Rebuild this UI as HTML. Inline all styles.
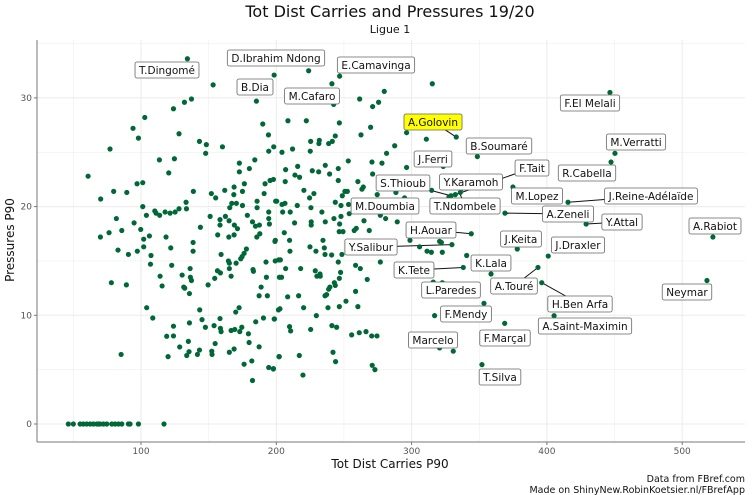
<!DOCTYPE html>
<html><head><meta charset="utf-8"><style>
body{margin:0;background:#fff;}
svg{display:block;font-family:"DejaVu Sans","Liberation Sans",sans-serif;}
</style></head><body>
<svg id="chart" width="752" height="495" viewBox="0 0 752 495">
<text x="390" y="17" text-anchor="middle" font-size="16" fill="#111">Tot Dist Carries and Pressures 19/20</text>
<text x="390" y="33" text-anchor="middle" font-size="11" fill="#111">Ligue 1</text>
<g id="grid"></g>
<g id="axes"></g>
<g id="conn"></g>
<g id="pts"></g>
<g id="labs"></g>
<text x="390" y="468" text-anchor="middle" font-size="12" fill="#111">Tot Dist Carries P90</text>
<text transform="translate(14,240) rotate(-90)" text-anchor="middle" font-size="12" fill="#111">Pressures P90</text>
<text x="745" y="482" text-anchor="end" font-size="9.5" fill="#111">Data from FBref.com</text>
<text x="745" y="493" text-anchor="end" font-size="9.5" fill="#111">Made on ShinyNew.RobinKoetsier.nl/FBrefApp</text>
</svg>
<script>
const xTicks=[100,200,300,400,500];
const yTicks=[0,10,20,30];
const xVals=[134.3,153.3,198.4,137.3,132.1,124,185.3,102.8,94.1,98.1,128.1,190,194.2,77.1,143.2,148.3,147.8,160.2,194.4,198.1,113.6,124.7,120.5,60.9,97.1,101.3,138.7,152,155.2,161.9,168.8,172.7,172.7,180.1,184.1,176.4,175,168.6,70.2,79.8,89.5,101.3,133.3,133.6,128.1,121.5,117.8,125.2,104,110.2,111.1,113.8,165.6,167.1,170.5,175,185.8,185.8,200.3,191,191.7,195.4,197.9,194.4,194.4,194.9,151.1,158.4,158.4,162.4,165.1,178.6,182.4,184.6,187.5,187.8,185.6,169,171.3,168.8,164.9,156.7,143.9,138.5,81.8,85.8,94.9,99.8,106.2,102,102,70,76.4,83,90.7,97.3,107.4,107,118.5,122,138.5,159.2,177.9,176.2,174.7,173.7,164.6,165.3,165.3,170.3,156.5,158.7,154.5,166.6,182.8,183.1,192.4,201.8,192.7,188.8,187.3,193.4,202.3,199.3,122.7,130.4,136.3,136.5,137.3,131.6,132.3,135.8,149.6,114.1,115.6,78.1,89.2,104.2,108.7,143.4,145.1,147.6,154,158.7,159.2,166.6,169.3,173,174.5,170,172.5,158.4,135.8,124,119,124,128.6,135,135.5,133.8,141.7,143.2,152.3,152.5,154.8,165.3,168.8,179.4,179.9,184.8,190.5,198.6,201.6,187.3,181.9,176.2,182.4,194.4,197.9,202,85.3,120,
46.3,50,55,57.4,59.9,62.4,64.8,67.3,68.5,69.7,72.2,74.7,78.4,80.8,83.3,85.8,90.7,91.9,98.1,117,
223.9,246.8,241.1,242.4,261.6,279.8,275.6,271.2,315.3,208.6,222.2,246.6,269.7,262.6,243.6,241.4,238.7,231.8,231.5,225.4,225.1,212,204.2,287.5,281.5,296.3,310.9,333,348.6,278.1,270.7,253.2,245.8,236.2,226.6,215.8,206.9,206.6,213.8,217.2,231.3,239.4,245.8,260.3,264.3,263.3,271.2,296.3,323.4,220.4,227.8,248.8,250.7,252.5,243.6,247.8,260.6,274.6,288.4,294.8,314.8,329.1,332.3,336,327.6,199.5,204.2,206.4,215.5,224.6,204.7,210.3,225.6,233.7,242.6,247.8,253.4,253.9,276.9,280.8,289.4,264.8,213.5,225.8,225.8,236.2,246.8,246.5,249.3,257.6,259.1,268.7,199,205.9,209.8,210.1,224.9,229.3,234.5,235.5,236,240.9,245.8,248.5,298.8,305.9,311.4,314.6,320.7,322,329.8,322.7,344.1,340.7,338.2,276.9,199.2,203,206.9,218,228.8,230,232.3,232.5,239.6,238.7,237.2,236,242.9,243.6,246.6,247.5,258.6,262.1,267.2,258.6,208.4,216.5,203.9,202.7,220.2,229.6,238.2,246.6,251.5,260.3,198.5,209.8,210.6,225.4,241.1,244.6,255.7,261.3,266.3,270.5,274.4,316,322.7,358.7,353.5,317,368.8,320.7,330.8,352,202.2,217,241.9,243.8,197.8,219.7,270.9,272.9,374.9,369,378.1,
446.6,450.3,447.4,415.6,429,522.7,401,393.4,396.2,405.3,518.3];
const yVals=[33.6,31.2,32.1,29.9,29.6,29.0,29.7,28.2,27.2,26.3,26.7,27.6,26.6,25.3,26.0,25.7,24.9,25.5,25.1,25.5,24.3,24.4,23.1,22.8,22.1,22.2,21.4,21.2,20.8,21.5,21.8,24.0,23.2,23.5,24.3,22.1,21.4,21.1,20.7,21.4,21.3,20.0,20.4,19.8,19.8,19.4,19.5,19.5,19.2,19.6,19.4,19.2,19.9,20.3,20.3,20.1,20.5,19.9,20.5,21.2,22.1,22.4,22.5,19.5,18.9,18.4,19.1,18.8,18.3,19.1,18.7,19.2,18.6,18.2,18.3,17.5,17.2,18.3,17.97,17.4,17.2,17.4,18.1,16.7,18.9,17.8,18.5,17.9,17.3,17.0,16.3,17.2,17.6,16.0,15.6,15.9,15.5,14.7,17.2,16.2,15.9,15.6,16.1,15.7,15.4,15.2,15.0,14.8,14.3,14.8,14.1,13.9,13.4,13.6,14.2,14.05,14.9,15.1,13.5,12.6,11.8,11.8,13.5,16.9,14.6,13.7,14.3,13.5,13.2,12.6,12.5,12.0,12.8,13.6,12.7,13.0,12.8,10.7,9.75,10.5,9.6,8.9,9.05,8.8,8.5,8.6,8.7,8.5,8.9,10.3,10.7,9.7,9.3,9.0,8.07,8.1,7.09,7.6,6.65,6.3,6.4,6.8,6.7,6.4,7.4,6.6,6.9,8.3,7.5,9.4,9.75,9.66,10.5,7.1,5.8,5.5,4.0,5.2,5.1,6.2,6.4,6.2,
0,0,0,0,0,0,0,0,0,0,0,0,0,0,0,0,0,0,0,0,
32.5,32.0,31.3,29.4,29.9,30.6,29.6,29.2,31.3,27.9,27.9,27.7,27.3,26.6,26.5,26.0,25.8,26.1,25.8,26.0,25.1,25.3,25.0,25.6,24.9,26.8,26.2,26.4,24.6,24.0,24.1,24.2,23.5,23.8,23.3,23.7,23.4,22.3,22.9,22.7,23.2,23.0,22.4,22.3,21.8,21.6,23.0,23.6,23.7,21.5,21.2,21.0,21.4,21.4,20.4,20.1,20.4,21.1,21.3,20.8,21.5,21.0,21.1,21.3,20.9,20.5,20.2,20.3,20.1,20.8,19.5,19.5,19.9,19.5,18.9,19.1,20.2,19.35,19.2,18.9,18.6,18.7,18.5,18.6,18.3,18.6,18.4,17.7,17.7,17.8,18.0,17.8,16.8,17.6,16.9,15.9,16.3,15.9,16.9,16.2,15.6,15.55,14.9,15.6,16.9,16.3,15.9,15.8,16.8,16.7,16.5,15.8,17.5,15.5,14.4,14.9,15.0,15.1,14.3,14.3,14.1,13.6,13.8,13.6,12.6,12.4,11.9,11.8,13.0,12.75,13.4,13.95,14.6,14.3,13.3,12.2,11.7,11.8,13.5,10.6,10.7,9.97,10.7,10.8,11.3,10.8,9.66,8.96,8.56,8.7,9.05,8.9,8.2,8.4,8.5,8.1,8.1,13.06,13.0,13.8,11.1,9.97,9.26,7.0,6.7,5.46,6.2,6.3,6.6,5.74,5.06,4.5,5.4,5.0,21.8,19.4,16.1,
30.5,24.9,24.1,20.4,18.4,17.2,15.45,14.4,13.0,9.96,13.2];
const labelNames=["T.Dingomé","D.Ibrahim Ndong","E.Camavinga","B.Dia","M.Cafaro","A.Golovin","B.Soumaré","F.El Melali","M.Verratti","R.Cabella","F.Tait","J.Ferri","Y.Karamoh","S.Thioub","M.Lopez","J.Reine-Adélaïde","M.Doumbia","T.Ndombele","A.Zeneli","Y.Attal","A.Rabiot","H.Aouar","J.Keita","J.Draxler","Y.Salibur","K.Tete","K.Lala","L.Paredes","A.Touré","Neymar","H.Ben Arfa","F.Mendy","A.Saint-Maximin","F.Marçal","Marcelo","T.Silva"];
const labelX=[134.3,198.4,246.8,153.3,242.4,333,348.6,446.6,450.3,447.4,332.3,323.4,336,329.1,374.9,415.6,294.8,336,369,429,522.7,344.1,378.1,401,329.8,338.2,358.7,316,393.4,518.3,396.2,317,405.3,368.8,320.7,352];
const labelY=[33.6,32.1,32.0,31.2,29.4,26.4,24.6,30.5,24.9,24.1,21.1,23.7,21.3,21.0,21.8,20.4,20.8,21.1,19.4,18.4,17.2,17.5,16.1,15.45,16.5,14.4,13.8,13.06,14.4,13.2,13.0,9.97,9.96,9.26,7.0,5.46];
const boxCX=[167,276,376,255,312,433,499,590,636,587,532,433,471,403,537,651,385,465,568,622,715,431,521,578,371,414,491,451,514,687,580,466,585,505,433,500];
const boxCY=[70,58,65,87,96,122,146,103,142,173,168,159,182,183,196,196,206,206,214,222,226,230,239,245,247,270,263,290,286,292,304,314,326,338,340,377];
const connect=[0,0,0,0,0,1,0,0,0,0,1,1,1,1,0,1,1,1,1,1,0,1,0,0,1,1,1,0,1,0,1,0,0,0,0,0];

const NS="http://www.w3.org/2000/svg";
const L=37,R=745,T=40,B=442;
function xs(v){return 5.7+v*1.353;}
function ys(v){return 424-v*10.87;}
function mk(tag,attrs,parent){const e=document.createElementNS(NS,tag);for(const k in attrs)e.setAttribute(k,attrs[k]);parent.appendChild(e);return e;}
const grid=document.getElementById('grid'),axes=document.getElementById('axes');
for(let v=50;v<=550;v+=50){const x=xs(v);if(x<L||x>R)continue;const major=v%100===0;
 const g=mk('line',{x1:x,x2:x,y1:T,y2:B,stroke:'#ebebeb','stroke-width':major?1:0.5},grid);
 
 }
for(let v=-5;v<=35;v+=5){const y=ys(v);if(y<T||y>B)continue;const major=v%10===0;
 const g=mk('line',{x1:L,x2:R,y1:y,y2:y,stroke:'#ebebeb','stroke-width':major?1:0.5},grid);
 
 }
const ax=mk('line',{x1:L,x2:L,y1:T,y2:B,stroke:'#777','stroke-width':1},axes);


const bx=mk('line',{x1:L,x2:R,y1:B,y2:B,stroke:'#777','stroke-width':1},axes);


xTicks.forEach(v=>{const x=xs(v);
 mk('line',{x1:x,x2:x,y1:B,y2:B+3,stroke:'#777'},axes);
 const t=mk('text',{x:x,y:B+12,'text-anchor':'middle','font-size':9,fill:'#555'},axes);t.textContent=v;
 
 });
yTicks.forEach(v=>{const y=ys(v);
 mk('line',{x1:L-3,x2:L,y1:y,y2:y,stroke:'#777'},axes);
 const t=mk('text',{x:L-5,y:y+3,'text-anchor':'end','font-size':9,fill:'#555'},axes);t.textContent=v;
 
 });
const pts=document.getElementById('pts');
xVals.forEach((v,i)=>{const c=mk('circle',{cx:xs(v),cy:ys(yVals[i]),r:2.6,fill:'#006837'},pts);
 
 });
const conn=document.getElementById('conn'),labs=document.getElementById('labs');
labelNames.forEach((n,i)=>{
 if(connect[i]){const ln=mk('line',{x1:boxCX[i],y1:boxCY[i],x2:xs(labelX[i]),y2:ys(labelY[i]),stroke:'#111','stroke-width':1},conn);
  
  }
 const g=mk('g',{},labs);
 
 
 const t=mk('text',{x:boxCX[i],y:boxCY[i]+4,'text-anchor':'middle','font-size':10.5,fill:'#111'},g);
 t.textContent=n;
 const w=t.getComputedTextLength()+8;
 const r=mk('rect',{x:boxCX[i]-w/2,y:boxCY[i]-8,width:w,height:16,rx:2,fill:n==='A.Golovin'?'#ffff00':'#fff',stroke:'#666','stroke-width':0.8},g);
 g.insertBefore(r,t);
});
</script>
</body></html>
